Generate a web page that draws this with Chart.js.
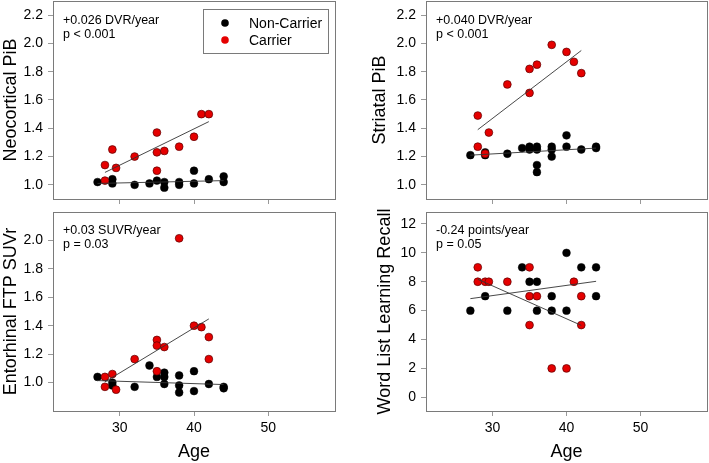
<!DOCTYPE html>
<html>
<head>
<meta charset="utf-8">
<script src="https://cdn.jsdelivr.net/npm/chart.js@4.4.0/dist/chart.umd.min.js"></script>
<style>
    html, body { margin: 0; padding: 0; background: #fff; }
    #wrap { position: relative; width: 709px; height: 463px; overflow: hidden; }
    canvas { position: absolute; }
</style>
</head>
<body>
<div id="wrap">
    <canvas id="neo" width="355" height="206" style="left:0;top:0"></canvas>
    <canvas id="str" width="354" height="206" style="left:355px;top:0"></canvas>
    <canvas id="ent" width="355" height="257" style="left:0;top:206px"></canvas>
    <canvas id="wll" width="354" height="257" style="left:355px;top:206px"></canvas>
</div>
<script>
// Shared axis
const ageMin = 21;
const ageMax = 59;
const ageTicks = [30, 40, 50];
const seriesNames = ['Non-Carrier', 'Carrier'];

// Neocortical PiB
const neoNonAge = [27, 29, 29, 32, 34, 35, 36, 36, 38, 38, 40, 40, 42, 44, 44];
const neoNonVal = [1.02, 1.04, 1.01, 1.00, 1.01, 1.03, 1.02, 0.98, 1.02, 1.00, 1.10, 1.01, 1.04, 1.06, 1.02];
const neoCarAge = [28, 28, 29, 29.5, 32, 35, 35, 35, 36, 38, 40, 41, 42];
const neoCarVal = [1.14, 1.03, 1.25, 1.12, 1.20, 1.37, 1.23, 1.10, 1.24, 1.27, 1.34, 1.50, 1.50];
const neoNonFit = [[27, 1.01], [44, 1.03]];
const neoCarFit = [[28, 1.088], [42, 1.447]];
const neoTicks = [1.0, 1.2, 1.4, 1.6, 1.8, 2.0, 2.2];
const neoNotes = ['+0.026 DVR/year', 'p < 0.001'];

// Striatal PiB
const strNonAge = [27, 29, 29, 32, 34, 35, 35, 36, 36, 36, 36, 38, 38, 38, 40, 40, 42, 44, 44];
const strNonVal = [1.21, 1.23, 1.21, 1.22, 1.26, 1.27, 1.25, 1.27, 1.25, 1.14, 1.09, 1.27, 1.25, 1.20, 1.35, 1.27, 1.25, 1.27, 1.26];
const strCarAge = [28, 28, 29, 29.5, 32, 35, 35, 36, 38, 40, 41, 42];
const strCarVal = [1.49, 1.27, 1.22, 1.37, 1.71, 1.82, 1.65, 1.85, 1.99, 1.94, 1.87, 1.79];
const strNonFit = [[27, 1.21], [44, 1.26]];
const strCarFit = [[28, 1.39], [42, 1.95]];
const strTicks = [1.0, 1.2, 1.4, 1.6, 1.8, 2.0, 2.2];
const strNotes = ['+0.040 DVR/year', 'p < 0.001'];

// Entorhinal FTP SUVr
const entNonAge = [27, 29, 29, 32, 34, 35, 36, 36, 36, 38, 38, 38, 40, 40, 42, 44, 44];
const entNonVal = [1.04, 1.00, 0.98, 0.97, 1.12, 1.04, 1.07, 1.04, 0.99, 1.05, 0.98, 0.93, 1.08, 0.94, 0.99, 0.97, 0.96];
const entCarAge = [28, 28, 29, 29.5, 32, 35, 35, 35, 36, 38, 40, 41, 42, 42];
const entCarVal = [1.04, 0.97, 1.06, 0.95, 1.165, 1.30, 1.26, 1.08, 1.25, 2.015, 1.40, 1.39, 1.32, 1.165];
const entNonFit = [[27, 1.014], [44, 0.986]];
const entCarFit = [[28, 1.005], [42, 1.448]];
const entTicks = [1.0, 1.2, 1.4, 1.6, 1.8, 2.0];
const entNotes = ['+0.03 SUVR/year', 'p = 0.03'];

// Word List Learning Recall
const wllNonAge = [27, 29, 32, 34, 35, 36, 36, 38, 38, 40, 40, 42, 44, 44];
const wllNonVal = [6, 7, 6, 9, 8, 8, 6, 7, 6, 10, 6, 9, 9, 7];
const wllCarAge = [28, 28, 29, 29.5, 32, 35, 35, 35, 36, 38, 40, 41, 42, 42];
const wllCarVal = [9, 8, 8, 8, 8, 9, 7, 5, 7, 2, 2, 8, 7, 5];
const wllNonFit = [[27, 6.83], [44, 8.03]];
const wllCarFit = [[28, 8.17], [42, 4.98]];
const wllTicks = [0, 2, 4, 6, 8, 10, 12];
const wllNotes = ['-0.24 points/year', 'p = 0.05'];

const FONT = "'Liberation Sans', Arial, sans-serif";
Chart.defaults.font.family = FONT;
Chart.defaults.color = '#000';

const toPoints = (xs, ys) => xs.map((x, i) => ({ x: x, y: ys[i] }));
const pairPoints = pairs => pairs.map(p => ({ x: p[0], y: p[1] }));

// no extra room for labels, the chart area is set by layout padding
function noScalePadding(s) {
    s.paddingTop = 0;
    s.paddingBottom = 0;
    s.paddingLeft = 0;
    s.paddingRight = 0;
}

// frame around the plot, text notes and the boxed legend
const panelDecor = {
    id: 'panelDecor',
    afterDraw(chart, args, opts) {
        const { ctx, chartArea: a } = chart;
        ctx.save();
        ctx.strokeStyle = '#7a7a7a';
        ctx.lineWidth = 1;
        ctx.strokeRect(Math.round(a.left) + 0.5, Math.round(a.top) + 0.5,
            Math.round(a.right - a.left), Math.round(a.bottom - a.top));

        ctx.fillStyle = '#000';
        ctx.font = '12.5px ' + FONT;
        ctx.textBaseline = 'middle';
        ctx.textAlign = 'left';
        (opts.notes || []).forEach((t, i) => {
            ctx.fillText(t, a.left + opts.noteX, a.top + opts.noteY + i * 13.5);
        });

        if (opts.legend) {
            const bx = a.left + 150, by = a.top + 8;
            const bw = a.right - 7 - bx, bh = 44;
            ctx.strokeStyle = '#7a7a7a';
            ctx.strokeRect(Math.round(bx) + 0.5, Math.round(by) + 0.5, Math.round(bw), bh);
            seriesNames.forEach((name, i) => {
                const d = chart.data.datasets.find(ds => ds.label === name);
                const cy = by + 14 + i * 17;
                ctx.beginPath();
                ctx.arc(bx + 22, cy, 3.8, 0, Math.PI * 2);
                ctx.fillStyle = d.backgroundColor;
                ctx.fill();
                ctx.fillStyle = '#000';
                ctx.font = '14px ' + FONT;
                ctx.fillText(name, bx + 46, cy + 1);
            });
        }
        ctx.restore();
    }
};

function makePanel(id, p) {
    const ctx = document.getElementById(id).getContext('2d');
    return new Chart(ctx, {
        type: 'scatter',
        data: {
            datasets: [
                {
                    label: 'Non-Carrier fit', data: pairPoints(p.nonFit), showLine: true,
                    borderColor: '#333', borderWidth: 0.9, pointRadius: 0
                },
                {
                    label: 'Carrier fit', data: pairPoints(p.carFit), showLine: true,
                    borderColor: '#333', borderWidth: 0.9, pointRadius: 0
                },
                {
                    label: seriesNames[1], data: toPoints(p.carAge, p.carVal),
                    backgroundColor: '#e50000', borderColor: '#5a0000', borderWidth: 0.7, pointRadius: 3.9
                },
                {
                    label: seriesNames[0], data: toPoints(p.nonAge, p.nonVal),
                    backgroundColor: '#000', borderColor: '#000', borderWidth: 0.5, pointRadius: 3.9
                }
            ]
        },
        options: {
            responsive: false,
            animation: false,
            layout: { autoPadding: false, padding: p.padding },
            plugins: {
                legend: { display: false },
                tooltip: { enabled: false },
                panelDecor: { notes: p.notes, noteX: 10, noteY: p.noteY, legend: p.legend }
            },
            scales: {
                x: {
                    min: ageMin,
                    max: ageMax,
                    afterBuildTicks: s => { s.ticks = ageTicks.map(v => ({ value: v })); },
                    afterFit: s => { s.height = p.xH; noScalePadding(s); },
                    grid: { drawOnChartArea: false, drawTicks: true, tickLength: 5, tickColor: '#999' },
                    border: { display: false },
                    ticks: { display: p.showX, font: { size: 14 }, padding: 4, color: '#000' },
                    title: { display: p.showX, text: 'Age', font: { size: 18 }, padding: { top: 0, bottom: 0 }, color: '#000' }
                },
                y: {
                    min: p.yMin,
                    max: p.yMax,
                    afterBuildTicks: s => { s.ticks = p.yTicks.map(v => ({ value: v })); },
                    afterFit: s => { s.width = p.yW; noScalePadding(s); },
                    grid: { drawOnChartArea: false, drawTicks: true, tickLength: 5, tickColor: '#999' },
                    border: { display: false },
                    ticks: {
                        font: { size: 14 }, padding: 5, color: '#000',
                        callback: v => v.toFixed(p.dec)
                    },
                    title: { display: true, text: p.yTitle, font: { size: 18 }, padding: { top: p.titlePad, bottom: 0 }, color: '#000' }
                }
            }
        },
        plugins: [panelDecor]
    });
}

makePanel('neo', {
    nonAge: neoNonAge, nonVal: neoNonVal, carAge: neoCarAge, carVal: neoCarVal,
    nonFit: neoNonFit, carFit: neoCarFit, yTicks: neoTicks, yMin: 0.9, yMax: 2.3, dec: 1,
    yTitle: 'Neocortical PiB', notes: neoNotes, noteY: 20, legend: true, showX: false,
    padding: { left: 0, top: 1, right: 20, bottom: 0 }, yW: 53, xH: 7, titlePad: 0
});
makePanel('str', {
    nonAge: strNonAge, nonVal: strNonVal, carAge: strCarAge, carVal: strCarVal,
    nonFit: strNonFit, carFit: strCarFit, yTicks: strTicks, yMin: 0.9, yMax: 2.3, dec: 1,
    yTitle: 'Striatal PiB', notes: strNotes, noteY: 20, legend: false, showX: false,
    padding: { left: 0, top: 1, right: 2, bottom: 0 }, yW: 71, xH: 7, titlePad: 14
});
makePanel('ent', {
    nonAge: entNonAge, nonVal: entNonVal, carAge: entCarAge, carVal: entCarVal,
    nonFit: entNonFit, carFit: entCarFit, yTicks: entTicks, yMin: 0.8, yMax: 2.2, dec: 1,
    yTitle: 'Entorhinal FTP SUVr', notes: entNotes, noteY: 19, legend: false, showX: true,
    padding: { left: 0, top: 6, right: 20, bottom: 0 }, yW: 53, xH: 52, titlePad: 0
});
makePanel('wll', {
    nonAge: wllNonAge, nonVal: wllNonVal, carAge: wllCarAge, carVal: wllCarVal,
    nonFit: wllNonFit, carFit: wllCarFit, yTicks: wllTicks, yMin: -0.95, yMax: 12.83, dec: 0,
    yTitle: 'Word List Learning Recall', notes: wllNotes, noteY: 19, legend: false, showX: true,
    padding: { left: 0, top: 6, right: 2, bottom: 0 }, yW: 71, xH: 52, titlePad: 19
});
</script>
</body>
</html>
